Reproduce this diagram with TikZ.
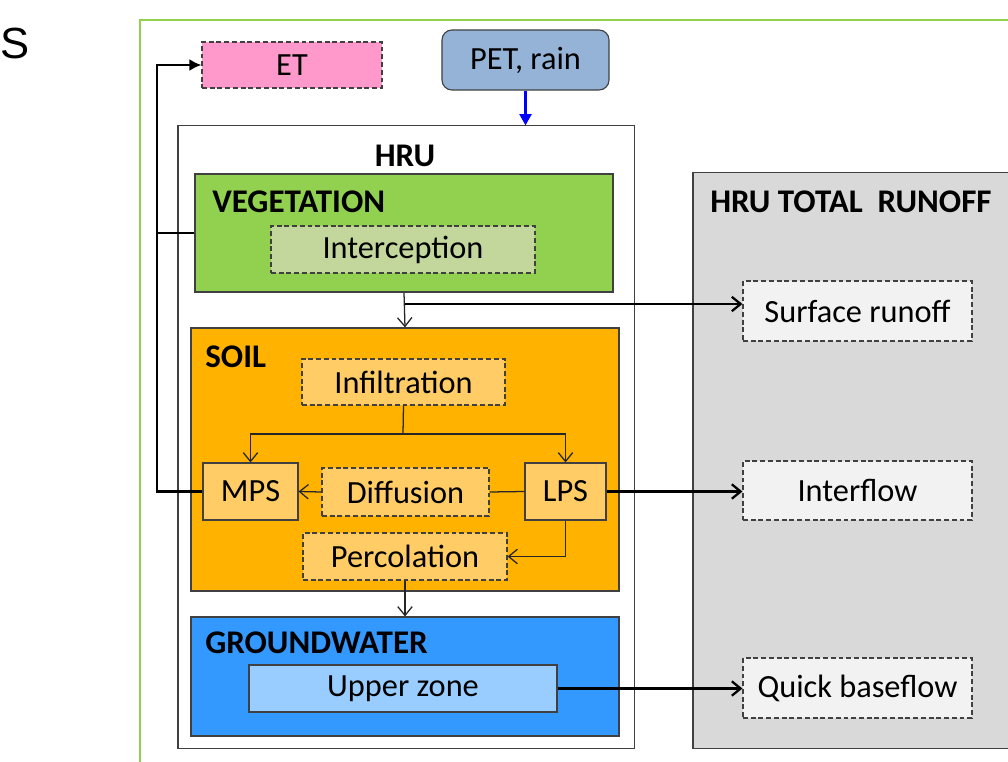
\documentclass[tikz,border=0pt]{standalone}
\usepackage{fontspec}
\setmainfont{Carlito}
\newfontfamily\capfont{Liberation Sans}
\usepackage{tikz}
\usetikzlibrary{arrows.meta, positioning, calc}
\definecolor{etpink}{HTML}{FF99CC}
\definecolor{petblue}{HTML}{95B3D7}
\definecolor{veggreen}{HTML}{92D050}
\definecolor{icpgreen}{HTML}{C3D69B}
\definecolor{soilorange}{HTML}{FFB300}
\definecolor{lightorange}{HTML}{FFCC66}
\definecolor{gwblue}{HTML}{3399FF}
\definecolor{upblue}{HTML}{99CCFF}
\definecolor{rogrey}{HTML}{D9D9D9}
\definecolor{flowgrey}{HTML}{F2F2F2}

\begin{document}
\begin{tikzpicture}[x=0.025cm, y=-0.025cm, every node/.style={font=\fontsize{23}{27}\selectfont}]
	\tikzstyle{box}=[draw=black!75, line width=0.8pt, inner sep=0pt]
	\tikzstyle{dbox}=[box, dash pattern=on 3.5pt off 2pt]
	\tikzstyle{lab}=[anchor=west, inner sep=0pt, font=\fontsize{23.5}{27}\selectfont\bfseries]
	\tikzstyle{arr}=[draw=black!85, line width=0.9pt, -{Straight Barb[length=2.2mm,width=3.6mm]}]
	\tikzstyle{flow}=[black, line width=1.6pt, -{Straight Barb[length=2.2mm,width=3.6mm]}]
	\useasboundingbox (0,0) rectangle (1008,762);
	\clip (0,0) rectangle (1008,762);
	\node[anchor=west, inner sep=0pt, font=\capfont\fontsize{31}{34}\selectfont] (s0) at (0,43) {S};
	\draw[veggreen, line width=1.2pt] (140,800) -- (140,20) -- (1050,20);
	% inputs
	\node[dbox, fill=etpink, minimum width=4.5cm, minimum height=1.15cm] (et) at (292,65) {ET};
	\node[box, fill=petblue, rounded corners=0.25cm, minimum width=4.175cm, minimum height=1.5cm] (pet) at (525.5,60) {PET, rain};
	% HRU
	\node[box, fill=white, minimum width=11.4cm, minimum height=15.55cm] (hru) at (406,437) {};
	\node[lab, anchor=center] (hrul) at (405,156) {HRU};
	\node[box, fill=veggreen, minimum width=10.45cm, minimum height=2.95cm] (veg) at (404,233) {};
	\node[lab] (vegl) at (212,202) {VEGETATION};
	\node[dbox, fill=icpgreen, minimum width=6.6cm, minimum height=1.175cm] (icp) at (403,249.5) {Interception};
	\node[box, fill=soilorange, minimum width=10.7cm, minimum height=6.575cm] (soil) at (405,459.5) {};
	\node[lab] (soill) at (205,357) {SOIL};
	\node[dbox, fill=lightorange, minimum width=5.075cm, minimum height=1.15cm] (inf) at (403.5,382) {Infiltration};
	\node[box, fill=lightorange, minimum width=2.375cm, minimum height=1.425cm] (mps) at (250.5,491.5) {MPS};
	\node[box, fill=lightorange, minimum width=2.025cm, minimum height=1.425cm] (lps) at (565.5,491.5) {LPS};
	\node[dbox, fill=lightorange, minimum width=4.175cm, minimum height=1.2cm] (dif) at (405.5,492) {Diffusion};
	\node[dbox, fill=lightorange, minimum width=5.1cm, minimum height=1.175cm] (perc) at (405,556.5) {Percolation};
	\node[box, fill=gwblue, minimum width=10.7cm, minimum height=2.975cm] (gw) at (405,676.5) {};
	\node[lab] (gwl) at (205,643) {GROUNDWATER};
	\node[box, fill=upblue, minimum width=7.7cm, minimum height=1.175cm] (upz) at (403,688.5) {Upper zone};
	% runoff
	\node[box, fill=rogrey, minimum width=8.425cm, minimum height=14.375cm] (ro) at (861.5,460.5) {};
	\node[lab] (rol) at (710,202) {HRU TOTAL\hspace{0.45em}RUNOFF};
	\node[dbox, fill=flowgrey, minimum width=5.725cm, minimum height=1.5cm] (sro) at (857.5,311) {Surface runoff};
	\node[dbox, fill=flowgrey, minimum width=5.725cm, minimum height=1.475cm] (ifl) at (857.5,490.5) {Interflow};
	\node[dbox, fill=flowgrey, minimum width=5.725cm, minimum height=1.5cm] (qbf) at (857.5,688) {Quick baseflow};
	% connectors
	\draw[blue, line width=1.5pt, -{Triangle[length=2.8mm,width=3mm]}] (pet.south) -- (pet.south |- hru.north);
	\draw[arr] (veg.south) -- (soil.north);
	\coordinate (vs) at (405,304);
	\draw[flow] (vs) -- (vs -| sro.west);
	\draw[draw=black!85, line width=0.9pt] (inf.south) -- (403,434) coordinate (split);
	\draw[arr] (split) -| (mps.north);
	\draw[arr] (split) -| (lps.north);
	\draw[draw=black!85, line width=0.9pt] (lps.west) -- (dif.east);
	\draw[arr] (dif.west) -- (mps.east);
	\draw[arr] (lps.south) |- (perc.east);
	\draw[arr] (perc.south) -- (gw.north);
	\draw[flow] (lps.east) -- (lps.east -| ifl.west);
	\draw[flow] (upz.east) -- (upz.east -| qbf.west);
	\coordinate (etc) at (157,0);
	\draw[black, line width=1.6pt, -{Latex[length=3mm,width=3mm]}] (mps.west) -- (mps.west -| etc) |- (et.west);
	\draw[black, line width=1.6pt] (veg.west) -- (veg.west -| etc);
\end{tikzpicture}
\end{document}
